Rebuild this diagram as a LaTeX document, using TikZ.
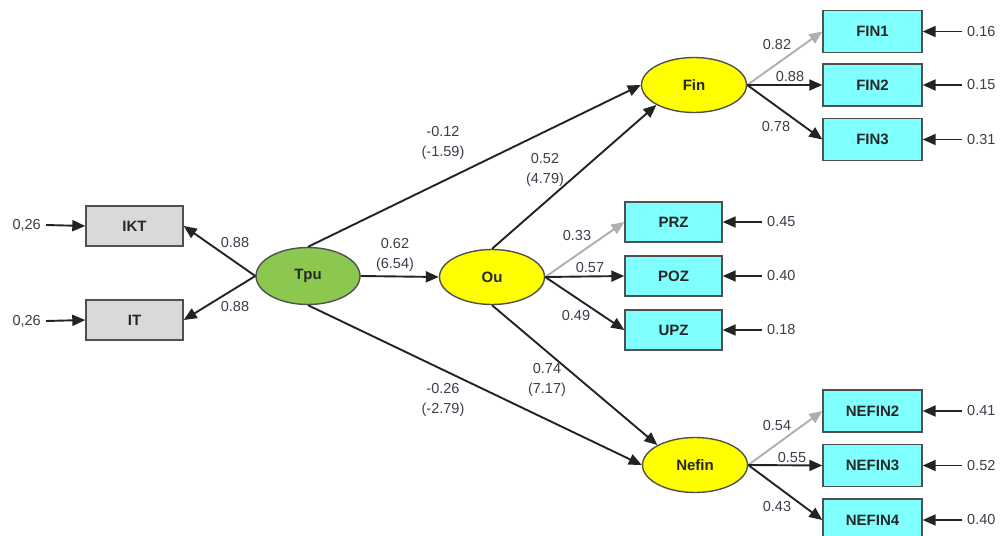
\documentclass[tikz,border=0pt]{standalone}
\usepackage{fontspec}
\setmainfont{Liberation Sans}
\usetikzlibrary{arrows.meta,shapes.geometric}
\definecolor{txt}{RGB}{60,60,75}
\definecolor{boxc}{RGB}{128,255,255}
\definecolor{grayb}{RGB}{217,217,217}
\definecolor{tpug}{RGB}{140,200,80}
\definecolor{yel}{RGB}{255,255,0}
\definecolor{edgec}{RGB}{35,35,35}
\definecolor{bord}{RGB}{80,80,80}
\definecolor{light}{RGB}{175,175,175}
\begin{document}
\begin{tikzpicture}[x=1pt,y=-1pt,
 every node/.style={font=\fontsize{14.5}{20}\selectfont, text=txt},
 mvar/.style={rectangle, draw=bord, line width=1.4pt, fill=boxc, minimum width=99pt, minimum height=42pt, font=\bfseries\fontsize{15}{17}\selectfont, text=black!85, inner sep=0pt},
 gvar/.style={mvar, fill=grayb, minimum width=97pt, minimum height=40pt},
 pvar/.style={mvar, minimum width=97pt, minimum height=40pt},
 lvar/.style={ellipse, draw=bord, line width=1.4pt, fill=yel, minimum width=105pt, minimum height=55pt, font=\bfseries\fontsize{15}{17}\selectfont, text=black!85, inner sep=0pt},
 arr/.style={-{Triangle[length=13pt,width=11pt]}, line width=1.9pt, draw=edgec},
 larr/.style={arr, draw=light},
 coef/.style={align=center, inner sep=1pt},
 err/.style={inner xsep=5pt, inner ysep=2pt},
]
\useasboundingbox (0,0) rectangle (1003,535);
% observed variables
\node[gvar] (ikt) at (134.5,226) {IKT};
\node[gvar] (it) at (134.5,320) {IT};
\node[mvar] (fin1) at (872.5,31.5) {FIN1};
\node[mvar] (fin2) at (872.5,85) {FIN2};
\node[mvar] (fin3) at (872.5,139.5) {FIN3};
\node[pvar] (prz) at (673.5,222) {PRZ};
\node[pvar] (poz) at (673.5,276) {POZ};
\node[pvar] (upz) at (673.5,330) {UPZ};
\node[mvar] (nefin2) at (872.5,411) {NEFIN2};
\node[mvar] (nefin3) at (872.5,465.5) {NEFIN3};
\node[mvar] (nefin4) at (872.5,520) {NEFIN4};
% latent variables
\node[lvar, fill=tpug, minimum width=104pt, minimum height=57pt] (tpu) at (308,276) {Tpu};
\node[lvar] (ou) at (492,277) {Ou};
\node[lvar] (fin) at (694,85) {Fin};
\node[lvar] (nefin) at (695,465) {Nefin};
% error labels
\node[err, anchor=east] (eikt) at (46,225) {0,26};
\node[err, anchor=east] (eit) at (46,321) {0,26};
\node[err, anchor=west] (efin1) at (962,31.5) {0.16};
\node[err, anchor=west] (efin2) at (962,85) {0.15};
\node[err, anchor=west] (efin3) at (962,139.5) {0.31};
\node[err, anchor=west] (eprz) at (762,222) {0.45};
\node[err, anchor=west] (epoz) at (762,276) {0.40};
\node[err, anchor=west] (eupz) at (762,330) {0.18};
\node[err, anchor=west] (enefin2) at (962,411) {0.41};
\node[err, anchor=west] (enefin3) at (962,465.5) {0.52};
\node[err, anchor=west] (enefin4) at (962,520) {0.40};
\foreach \a/\b in {eikt/ikt,eit/it}{\draw[arr] (\a.east) -- (\b.west);}
\foreach \a/\b in {efin1/fin1,efin2/fin2,efin3/fin3,eprz/prz,epoz/poz,eupz/upz,enefin2/nefin2,enefin3/nefin3,enefin4/nefin4}{\draw[arr] (\a.west) -- (\b.east);}
% structural paths
\draw[arr] (tpu.west) -- (ikt.east);
\draw[arr] (tpu.west) -- (it.east);
\draw[arr] (tpu.east) -- (ou.west);
\draw[arr] (tpu.north) -- (fin.west);
\draw[arr] (tpu.south) -- (nefin.west);
\draw[arr] (ou.north) -- (fin.south west);
\draw[arr] (ou.south) -- (nefin.north west);
% measurement paths
\draw[larr] (fin.east) -- (fin1.west);
\draw[arr] (fin.east) -- (fin2.west);
\draw[arr] (fin.east) -- (fin3.west);
\draw[larr] (ou.east) -- (prz.west);
\draw[arr] (ou.east) -- (poz.west);
\draw[arr] (ou.east) -- (upz.west);
\draw[larr] (nefin.east) -- (nefin2.west);
\draw[arr] (nefin.east) -- (nefin3.west);
\draw[arr] (nefin.east) -- (nefin4.west);
% coefficients
\node[coef] (c1) at (235,243) {0.88};
\node[coef] (c2) at (235,307) {0.88};
\node[coef] (c3) at (395,255) {0.62\\(6.54)};
\node[coef] (c4) at (443,143) {-0.12\\(-1.59)};
\node[coef] (c5) at (545,170) {0.52\\(4.79)};
\node[coef] (c6) at (443,400) {-0.26\\(-2.79)};
\node[coef] (c7) at (547,380) {0.74\\(7.17)};
\node[coef] (c8) at (777,45) {0.82};
\node[coef] (c9) at (790,77) {0.88};
\node[coef] (c10) at (776,127) {0.78};
\node[coef] (c11) at (577,236) {0.33};
\node[coef] (c12) at (590,268) {0.57};
\node[coef] (c13) at (576,316) {0.49};
\node[coef] (c14) at (777,426) {0.54};
\node[coef] (c15) at (792,458) {0.55};
\node[coef] (c16) at (777,507) {0.43};
\end{tikzpicture}
\end{document}
